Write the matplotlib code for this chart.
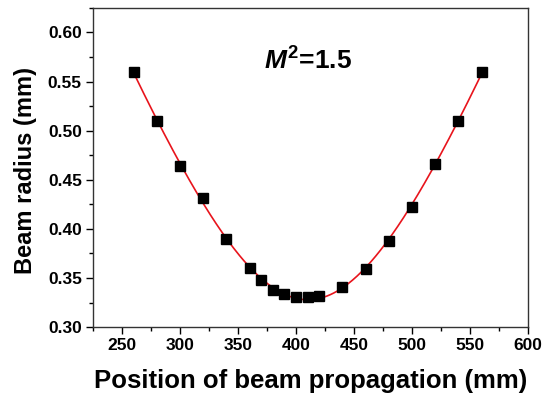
import numpy as np
import matplotlib
matplotlib.use("Agg")
import matplotlib.pyplot as plt
from matplotlib.ticker import MultipleLocator, FormatStrFormatter

plt.rcParams["font.family"] = ["Liberation Sans", "DejaVu Sans"]
plt.rcParams["font.weight"] = "bold"
plt.rcParams["mathtext.fontset"] = "custom"
plt.rcParams["mathtext.rm"] = "Liberation Sans:bold"
plt.rcParams["mathtext.it"] = "Liberation Sans:bold:italic"
plt.rcParams["mathtext.bf"] = "Liberation Sans:bold"

# measured beam radius along the propagation axis
position = [260, 280, 300, 320, 340, 360, 370, 380, 390, 400,
            410, 420, 440, 460, 480, 500, 520, 540, 560]
radius = [0.560, 0.510, 0.464, 0.431, 0.390, 0.360, 0.348, 0.338, 0.334, 0.331,
          0.331, 0.332, 0.341, 0.359, 0.388, 0.422, 0.466, 0.510, 0.560]

# hyperbolic fit: w^2 is quadratic in z
z = np.array(position, dtype=float)
w = np.array(radius)
coef = np.polyfit(z, w ** 2, 2)
z_fit = np.linspace(z.min(), z.max(), 300)
w_fit = np.sqrt(np.polyval(coef, z_fit))

fig = plt.figure(figsize=(5.53, 3.95), dpi=100, facecolor="white")
ax = fig.add_axes([0.168, 0.172, 0.787, 0.808])

ax.plot(z_fit, w_fit, color="#e8141c", lw=1.2, zorder=2)
ax.plot(position, radius, ls="none", marker="s", ms=6.5, color="black", zorder=3)

ax.text(372, 0.562, r"$M^2$=1.5", fontsize=19, fontweight="bold")

ax.set_xlim(225, 600)
ax.set_ylim(0.30, 0.625)
ax.xaxis.set_major_locator(MultipleLocator(50))
ax.xaxis.set_minor_locator(MultipleLocator(25))
ax.yaxis.set_major_locator(MultipleLocator(0.05))
ax.yaxis.set_minor_locator(MultipleLocator(0.025))
ax.yaxis.set_major_formatter(FormatStrFormatter("%.2f"))

ax.tick_params(which="major", direction="out", length=5, width=1, labelsize=12.5, pad=3)
ax.tick_params(which="minor", direction="out", length=3, width=1)
for sp in ax.spines.values():
    sp.set_color("#333333")
    sp.set_linewidth(1.0)

ax.set_xlabel("Position of beam propagation (mm)", fontsize=18.5, fontweight="bold")
ax.set_ylabel("Beam radius (mm)", fontsize=17, fontweight="bold")
ax.xaxis.set_label_coords(0.5, -0.13)
ax.yaxis.set_label_coords(-0.128, 0.49)

fig.savefig("out.png", dpi=100, facecolor="white")
